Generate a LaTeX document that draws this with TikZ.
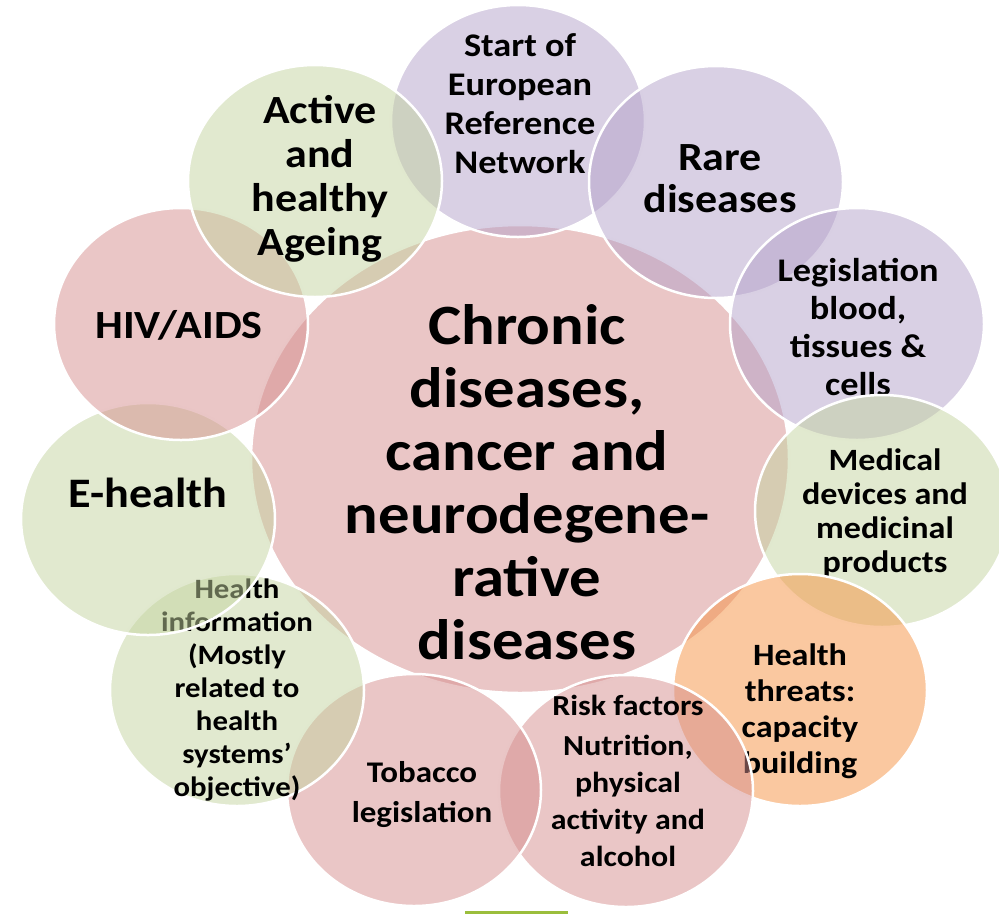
\documentclass[tikz,border=0pt]{standalone}
\usepackage{fontspec}
\setmainfont{Carlito}[FakeStretch=1.1]
\usetikzlibrary{shapes.geometric}

\definecolor{hubpink}{RGB}{213,141,141}
\definecolor{lilac}{RGB}{179,161,201}
\definecolor{sage}{RGB}{195,211,159}
\definecolor{apricot}{RGB}{245,145,65}
\definecolor{barlime}{RGB}{155,190,60}

\tikzset{
  bubble/.style={ellipse, inner sep=0pt, minimum width=254pt, minimum height=232pt,
    draw=white, line width=2.5pt, fill opacity=0.5, draw opacity=1},
  caption/.style={align=center, inner sep=0pt, text=black},
  capsize/.style 2 args={font=\bfseries\fontsize{#1}{#2}\selectfont}
}

\begin{document}
\begin{tikzpicture}[x=1pt, y=-1pt]
        \useasboundingbox (0,0) rectangle (999,914);

        % centre
        \node [bubble, fill=hubpink, minimum width=538pt, minimum height=468pt] (hub) at (520,459) {};
        \node [caption, capsize={57}{63}] (hubtxt) at (527,482) {Chronic\\diseases,\\cancer and\\neurodegene-\\rative\\diseases};

        % ring, clockwise from the top
        \node [bubble, fill=lilac] (ern) at (518,121) {};
        \node [caption, capsize={33}{39}] (erntxt) at (520,104) {Start of\\European\\Reference\\Network};
        \node [bubble, fill=lilac] (rare) at (716,182) {};
        \node [caption, capsize={40}{42}] (raretxt) at (720,179) {Rare\\diseases};
        \node [bubble, fill=lilac] (blood) at (857,324) {};
        \node [caption, capsize={33}{38}] (bloodtxt) at (858,327) {Legislation\\blood,\\tissues \&\\cells};
        \node [bubble, fill=sage] (devices) at (882,511) {};
        \node [caption, capsize={31}{34}] (devicestxt) at (885,513) {Medical\\devices and\\medicinal\\products};
        \node [bubble, fill=apricot] (threats) at (800,690) {};
        \node [caption, capsize={31}{36}] (threatstxt) at (800,711) {Health\\threats:\\capacity\\building};
        \node [bubble, fill=hubpink] (risk) at (626,791) {};
        \node [caption, capsize={29}{37}] (risktxt) at (628,781) {Risk factors\\[3pt]Nutrition,\\physical\\activity and\\alcohol};
        \node [bubble, fill=hubpink] (tobacco) at (414,790) {};
        \node [caption, capsize={30}{40}] (tobaccotxt) at (422,795) {Tobacco\\legislation};
        \node [bubble, fill=sage] (info) at (237,690) {};
        \node [caption, capsize={28}{33}] (infotxt) at (237,690) {Health\\information\\(Mostly\\related to\\health\\systems'\\objective)};
        \node [bubble, fill=sage] (ehealth) at (148,519) {};
        \node [caption, capsize={42}{44}] (ehealthtxt) at (148,493) {E-health};
        \node [bubble, fill=hubpink] (hiv) at (181,324) {};
        \node [caption, capsize={40}{44}] (hivtxt) at (179,325) {HIV/AIDS};
        \node [bubble, fill=sage] (ageing) at (315,181) {};
        \node [caption, capsize={40}{44}] (ageingtxt) at (320,179) {Active\\and\\healthy\\Ageing};

        \fill [barlime] (465,911) rectangle (568,914);
\end{tikzpicture}
\end{document}
